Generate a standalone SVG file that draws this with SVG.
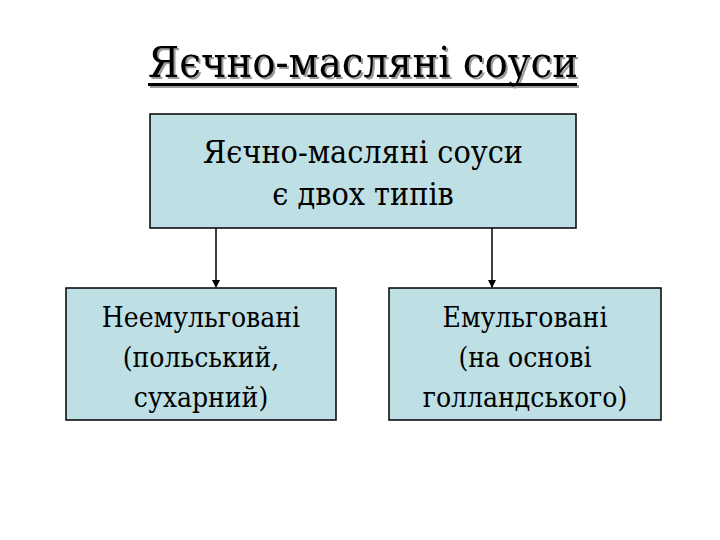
<svg xmlns="http://www.w3.org/2000/svg" width="720" height="540" viewBox="0 0 720 540">
<defs>
<style>
text{font-family:"DejaVu Serif Condensed","DejaVu Serif","Liberation Serif",serif;font-stretch:condensed;fill:#000;text-anchor:middle}
.box{fill:#bedfe3;stroke:#000;stroke-width:1.5}
.lbl{font-size:32px}
.sm{font-size:28px}
.conn{stroke:#000;stroke-width:1.5;fill:none}
</style>
<filter id="shadow" x="-5%" y="-20%" width="110%" height="150%">
<feOffset in="SourceAlpha" dx="2" dy="2" result="o"/>
<feComponentTransfer in="o" result="g"><feFuncA type="linear" slope="0.4"/></feComponentTransfer>
<feMerge><feMergeNode in="g"/><feMergeNode in="SourceGraphic"/></feMerge>
</filter>
<marker id="ah" markerWidth="8" markerHeight="8" refX="7" refY="4" orient="auto" markerUnits="userSpaceOnUse">
<path d="M0,0 L8,4 L0,8 z" fill="#000"/>
</marker>
</defs>
<rect width="720" height="540" fill="#fff"/>
<g id="title" filter="url(#shadow)">
<text x="363" y="77" font-size="43">Яєчно-масляні соуси</text>
<rect x="148" y="83" width="429" height="3" fill="#000"/>
</g>
<g id="connectors">
<line class="conn" x1="216" y1="228" x2="216" y2="287" marker-end="url(#ah)"/>
<line class="conn" x1="492" y1="228" x2="492" y2="287" marker-end="url(#ah)"/>
</g>
<g id="top">
<rect class="box" x="150" y="114" width="426" height="114"/>
<text class="lbl" x="363" y="163">Яєчно-масляні соуси</text>
<text class="lbl" x="363" y="205">є двох типів</text>
</g>
<g id="left">
<rect class="box" x="66" y="288" width="270" height="132"/>
<text class="sm" x="201" y="327">Неемульговані</text>
<text class="sm" x="201" y="367">(польський,</text>
<text class="sm" x="201" y="407">сухарний)</text>
</g>
<g id="right">
<rect class="box" x="389" y="288" width="272" height="132"/>
<text class="sm" x="525" y="327">Емульговані</text>
<text class="sm" x="525" y="367">(на основі</text>
<text class="sm" x="525" y="407">голландського)</text>
</g>
</svg>
